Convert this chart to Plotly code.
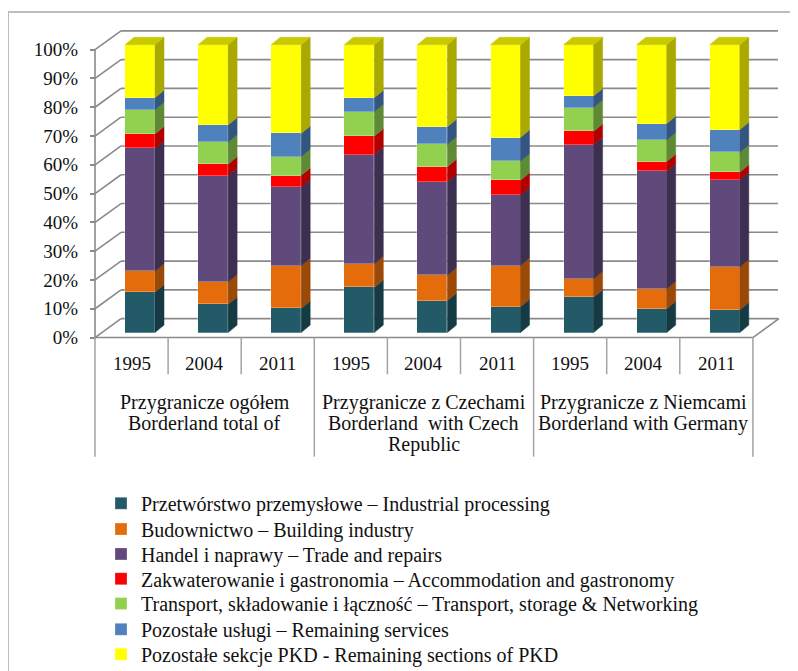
import plotly.graph_objects as go

# ---- data (shares in %) ----
years = ["1995", "2004", "2011", "1995", "2004", "2011", "1995", "2004", "2011"]
groups = [
    ["Przygranicze ogółem", "Borderland total of"],
    ["Przygranicze z Czechami", "Borderland  with Czech", "Republic"],
    ["Przygranicze z Niemcami", "Borderland with Germany"],
]
pct_ticks = [0, 10, 20, 30, 40, 50, 60, 70, 80, 90, 100]
pct_labels = ["0%", "10%", "20%", "30%", "40%", "50%", "60%", "70%", "80%", "90%", "100%"]

przetworstwo = [14.0, 9.8, 8.4, 15.7, 11.1, 9.0, 12.3, 8.3, 7.9]
budownictwo = [7.3, 7.8, 14.8, 8.2, 8.8, 14.3, 6.3, 6.9, 14.9]
handel = [42.7, 37.0, 27.3, 37.9, 32.5, 24.5, 46.7, 40.8, 30.3]
zakwaterowanie = [5.0, 3.9, 4.1, 6.4, 5.2, 5.1, 4.6, 3.4, 2.6]
transport = [8.4, 7.6, 6.5, 8.5, 7.8, 6.6, 8.3, 7.5, 6.9]
uslugi = [4.2, 6.0, 8.1, 4.9, 6.1, 8.3, 4.0, 5.7, 7.9]
pozostale = [18.4, 27.9, 30.8, 18.4, 28.5, 32.2, 17.8, 27.4, 29.5]

series = [
    ("Przetwórstwo przemysłowe – Industrial processing", przetworstwo, "#225a68", "#163a44"),
    ("Budownictwo – Building industry", budownictwo, "#e46c0a", "#9a4906"),
    ("Handel i naprawy – Trade and repairs", handel, "#604a7b", "#3d2f50"),
    ("Zakwaterowanie i gastronomia – Accommodation and gastronomy", zakwaterowanie, "#ff0000", "#b00000"),
    ("Transport, składowanie i łączność – Transport, storage &amp; Networking", transport, "#92d050", "#5e8a35"),
    ("Pozostałe usługi – Remaining services", uslugi, "#4f81bd", "#33557f"),
    ("Pozostałe sekcje PKD - Remaining sections of PKD", pozostale, "#ffff00", "#a9a900"),
]
TOP_FACE = "#c9c900"

# ---- geometry, in pixels of the picture ----
W, H = 798, 671
PAGE_OFF = 8          # the page body margin moves the figure by 8px
CAT_W = 73.1          # px per category
X_FRONT = 95          # front left corner of the floor
Y_BASE = 335          # bottom of the bars' front face
PPU = 2.9             # px per percent
FLOOR_FRONT, FLOOR_BACK = 340, 321
WALL_DX = 26
BAR_DX, BAR_DY = 9, 7.5
BAR_W = 30 / CAT_W
BAR_OFF = -0.5 + 30 / CAT_W
DOM_L, DOM_R, DOM_T, DOM_B = 88, 785, 22, 346
FONT = "Liberation Serif"
LEGEND_Y = [507, 533, 558, 583, 608, 634, 659]


def xd(px):
    return (px - X_FRONT) / CAT_W - 0.5


def yd(py):
    return (Y_BASE - py) / PPU


def xp(px):
    return (px - PAGE_OFF) / W


def yp(py):
    return 1 - (py - PAGE_OFF) / H


fig = go.Figure()

xs = list(range(len(years)))
legends = {}
for k, (name, vals, col, side) in enumerate(series):
    lg = "legend" if k == 0 else f"legend{k + 1}"
    fig.add_trace(go.Bar(
        x=xs, y=vals, name=name, width=BAR_W, offset=BAR_OFF, legend=lg,
        marker=dict(color=col, line=dict(width=0.6, color="rgba(255,255,255,0.45)")),
        hoverinfo="y+name",
    ))
    legends[lg] = dict(x=xp(101), y=yp(LEGEND_Y[k]), xanchor="left", yanchor="middle",
                       font=dict(family=FONT, size=20, color="#111111"),
                       bgcolor="rgba(0,0,0,0)", borderwidth=0)

# dummy trace so the front percentage axis gets drawn
fig.add_trace(go.Scatter(x=[None], y=[None], yaxis="y2", showlegend=False, hoverinfo="skip"))

shapes = []
gc = "#8a8a8a"

# back wall gridlines + left wall diagonals
for v in pct_ticks:
    shapes.append(dict(type="line", xref="x", yref="y", layer="below",
                       x0=xd(X_FRONT + WALL_DX), x1=xd(778), y0=v + yd(FLOOR_BACK), y1=v + yd(FLOOR_BACK),
                       line=dict(color=gc, width=1.6)))
    shapes.append(dict(type="line", xref="x", yref="y", layer="below",
                       x0=xd(X_FRONT), x1=xd(X_FRONT + WALL_DX), y0=v + yd(FLOOR_FRONT), y1=v + yd(FLOOR_BACK),
                       line=dict(color=gc, width=1.6)))
# front value axis line
shapes.append(dict(type="line", xref="x", yref="y", layer="below",
                   x0=xd(X_FRONT), x1=xd(X_FRONT), y0=yd(FLOOR_FRONT), y1=100 + yd(FLOOR_FRONT),
                   line=dict(color=gc, width=1.6)))
# floor front edge + right edge
x_end = xd(X_FRONT + 9 * CAT_W)
shapes.append(dict(type="line", xref="x", yref="y", layer="below",
                   x0=xd(X_FRONT), x1=x_end, y0=yd(FLOOR_FRONT), y1=yd(FLOOR_FRONT),
                   line=dict(color=gc, width=1.6)))
shapes.append(dict(type="line", xref="x", yref="y", layer="below",
                   x0=x_end, x1=x_end + WALL_DX / CAT_W, y0=yd(FLOOR_FRONT), y1=yd(FLOOR_BACK),
                   line=dict(color=gc, width=1.6)))

# side and top faces of the bars
dx = BAR_DX / CAT_W
dy = BAR_DY / PPU
for i in xs:
    xl = i + BAR_OFF
    xr = xl + BAR_W
    y0 = 0
    for name, vals, col, side in series:
        y1 = y0 + vals[i]
        shapes.append(dict(type="path", xref="x", yref="y",
                           path=f"M{xr},{y0} L{xr + dx},{y0 + dy} L{xr + dx},{y1 + dy} L{xr},{y1} Z",
                           fillcolor=side, line=dict(width=0.5, color=side)))
        y0 = y1
    shapes.append(dict(type="path", xref="x", yref="y",
                       path=f"M{xl},{y0} L{xl + dx},{y0 + dy} L{xr + dx},{y0 + dy} L{xr},{y0} Z",
                       fillcolor=TOP_FACE, line=dict(width=0.5, color=TOP_FACE)))

# category table lines under the floor
for k in range(10):
    bottom = 460 if k % 3 == 0 else 377
    shapes.append(dict(type="line", xref="paper", yref="paper",
                       x0=xp(X_FRONT + k * CAT_W), x1=xp(X_FRONT + k * CAT_W),
                       y0=yp(FLOOR_FRONT), y1=yp(bottom),
                       line=dict(color="#a3a3a3", width=1.5)))

# outer frame (top and left)
shapes.append(dict(type="line", xref="paper", yref="paper", x0=xp(8), x1=1, y0=yp(12), y1=yp(12),
                   line=dict(color="#bdbdbd", width=2)))
shapes.append(dict(type="line", xref="paper", yref="paper", x0=xp(8), x1=xp(8), y0=yp(12), y1=0,
                   line=dict(color="#bdbdbd", width=2)))

annotations = []
for i, yr in enumerate(years):
    annotations.append(dict(x=i, xref="x", y=yp(366), yref="paper", text=yr, showarrow=False,
                            yanchor="middle", font=dict(family=FONT, size=19, color="#111111")))
for g, lines in enumerate(groups):
    for j, line in enumerate(lines):
        annotations.append(dict(x=3 * g + 1, xref="x", y=yp(405 + 21.5 * j), yref="paper", text=line,
                                showarrow=False, yanchor="middle",
                                font=dict(family=FONT, size=20, color="#111111")))

fig.update_layout(
    width=W, height=H,
    margin=dict(l=0, r=0, t=0, b=0),
    paper_bgcolor="white", plot_bgcolor="rgba(0,0,0,0)",
    font=dict(family=FONT, color="#111111", size=19),
    barmode="stack", bargap=0,
    xaxis=dict(domain=[xp(DOM_L), xp(DOM_R)], range=[xd(DOM_L), xd(DOM_R)],
               showgrid=False, zeroline=False, showticklabels=False, showline=False, fixedrange=True),
    yaxis=dict(domain=[yp(DOM_B), yp(DOM_T)], range=[yd(DOM_B), yd(DOM_T)],
               showgrid=False, zeroline=False, showticklabels=False, showline=False, fixedrange=True),
    yaxis2=dict(overlaying="y", anchor="free", position=xp(X_FRONT), side="left",
                range=[(FLOOR_FRONT - DOM_B) / PPU, (FLOOR_FRONT - DOM_T) / PPU],
                tickmode="array", tickvals=pct_ticks, ticktext=pct_labels,
                ticks="outside", ticklen=5, tickwidth=1.5, tickcolor=gc,
                ticklabelstandoff=8, tickfont=dict(family=FONT, size=19, color="#111111"),
                showgrid=False, zeroline=False, showline=False, fixedrange=True),
    shapes=shapes,
    annotations=annotations,
    **legends,
)

fig.write_html("out.html")
